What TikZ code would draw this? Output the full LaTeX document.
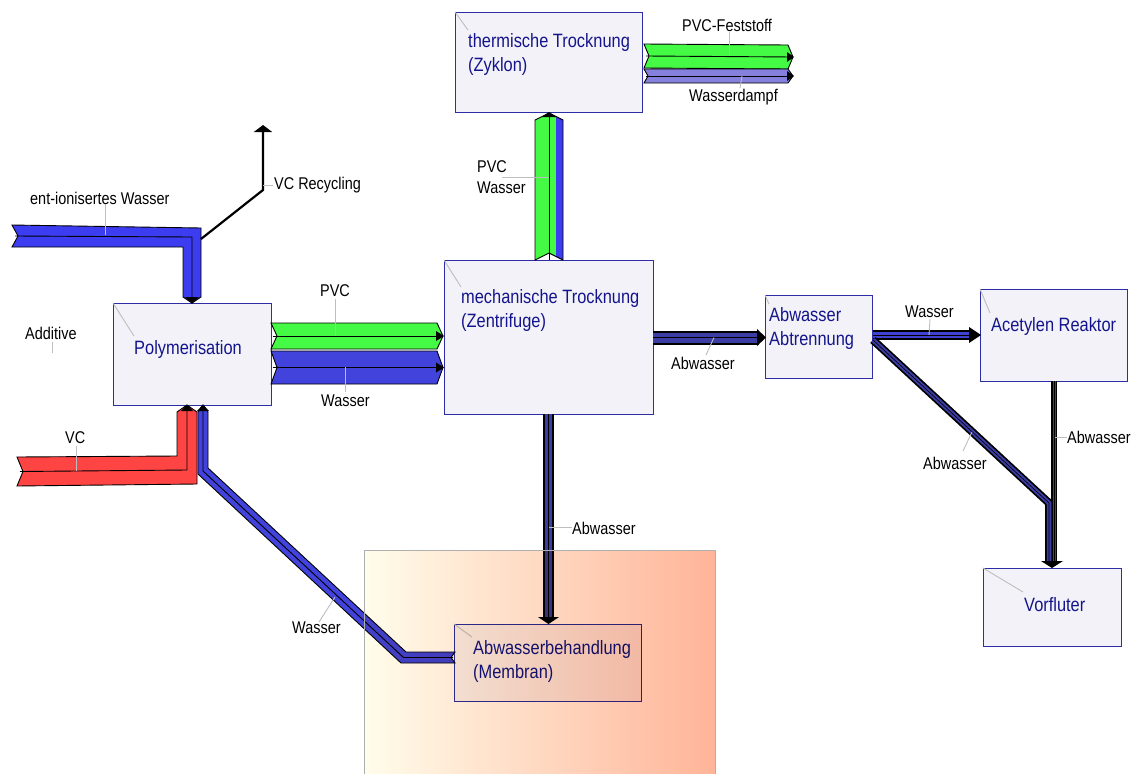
\documentclass[tikz,border=0pt]{standalone}
\usepackage{fontspec}
\setmainfont{Liberation Sans}[FakeStretch=0.85]
\usetikzlibrary{arrows.meta}
\definecolor{boxf}{RGB}{242,242,248}
\definecolor{boxc}{RGB}{45,45,165}
\definecolor{txtc}{RGB}{20,20,140}
\definecolor{grn}{RGB}{68,250,68}
\definecolor{blu}{RGB}{60,60,240}
\definecolor{wblu}{RGB}{66,66,220}
\definecolor{vio}{RGB}{132,128,220}
\definecolor{redc}{RGB}{255,68,68}
\definecolor{abw}{RGB}{60,60,165}
\definecolor{abwb}{RGB}{64,64,210}
\definecolor{lead}{RGB}{190,190,190}
\definecolor{gradL}{RGB}{255,253,235}
\definecolor{gradR}{RGB}{255,180,152}
\definecolor{frame}{RGB}{175,175,175}
\begin{document}
\begin{tikzpicture}[x=1pt,y=-1pt,
  box/.style={draw=boxc, fill=boxf, line width=1.4pt, inner sep=0pt, anchor=north west},
  btext/.style={text=txtc, font=\fontsize{19.3}{24}\selectfont, align=left, anchor=west, inner sep=0pt},
  lab/.style={text=black, font=\fontsize{17}{21}\selectfont, align=left, anchor=west, inner sep=0pt},
  leader/.style={draw=lead, line width=0.9pt},
  band/.style={draw=black, line width=0.9pt, line join=miter, fill=#1},
  mid/.style={draw=black, line width=0.9pt},
  outerb/.style={draw=black, line width=#1, line join=miter},
  innerb/.style={line width=#1, line join=miter},
  thinmid/.style={draw=black, line width=0.6pt}]
\useasboundingbox (0,0) rectangle (1141,774);
\fill[white] (0,0) rectangle (1141,774);

% ---------- boxes
\node[box, minimum width=187pt, minimum height=100pt] (therm) at (455,12) {};
\node[box, minimum width=158pt, minimum height=102pt] (poly) at (113,303) {};
\node[box, minimum width=209pt, minimum height=154pt] (mech) at (444,260) {};
\node[box, minimum width=107pt, minimum height=83pt] (abtr) at (765,295) {};
\node[box, minimum width=147pt, minimum height=92pt] (acet) at (980,289) {};
\node[box, minimum width=138pt, minimum height=78pt] (vorf) at (983,568) {};
\node[box, minimum width=187pt, minimum height=77pt] (memb) at (454,624) {};

\draw[leader] (therm.north west) -- (468,30);
\draw[leader] (poly.north west) -- (134,336);
\draw[leader] (mech.north west) -- (461,287);
\draw[leader] (abtr.north west) -- (769,304);
\draw[leader] (acet.north west) -- (990,313);
\draw[leader] (vorf.north west) -- (1023,592);
\draw[leader] (memb.north west) -- (472,637);

\node[btext] (tTherm) at (468,55) {thermische Trocknung\\(Zyklon)};
\node[btext] (tPoly) at (134,350) {Polymerisation};
\node[btext] (tMech) at (461,311) {mechanische Trocknung\\(Zentrifuge)};
\node[btext] (tAbtr) at (769,328.5) {Abwasser\\Abtrennung};
\node[btext] (tAcet) at (991,327) {Acetylen Reaktor};
\node[btext] (tVorf) at (1024,605) {Vorfluter};
\node[btext] (tMemb) at (473,661) {Abwasserbehandlung\\(Membran)};

% ---------- ent-ionisertes Wasser
\draw[band=blu] (12,225) -- (201,228) -- (201,297) -- (192,303) -- (183,297) -- (183,247) -- (12,247) -- (18,236) -- cycle;
\draw[mid] (15,236) -- (192,237) -- (192,303);
\fill (185,297) -- (199,297) -- (192,303.5) -- cycle;

% ---------- VC Recycling
\draw[line width=2.2pt, -{Triangle[width=18pt,length=7pt]}] (201,239) -- (263,190) -- (263,125);

% ---------- VC
\draw[band=redc] (17,457) -- (177,456) -- (177,412) -- (187,405) -- (197,412) -- (197,484) -- (17,486) -- (23,471.5) -- cycle;
\draw[mid] (20,471.5) -- (187,470) -- (187,405);
\fill (181,411) -- (187,404.5) -- (193,411) -- cycle;

% ---------- Wasser return
\draw[band=wblu] (208,412) -- (208,468) -- (406,652) -- (455,652) -- (451,657.5) -- (455,663) -- (401,663) -- (198,474) -- (198,412) -- (203,405) -- cycle;
\draw[mid] (203,405) -- (203,471) -- (403.5,657.5) -- (453,657.5);
\fill (197,411) -- (203,404.5) -- (209,411) -- cycle;

% ---------- PVC / Wasser to mech
\draw[band=grn] (271,323) -- (437,323) -- (443,336) -- (437,349) -- (271,349) -- (277,336) -- cycle;
\draw[mid] (273,336) -- (443,336);
\fill (436,331) -- (444,336) -- (436,341) -- cycle;
\draw[band=wblu] (271,351) -- (437,351) -- (443,367.5) -- (437,384) -- (271,384) -- (277,367.5) -- cycle;
\draw[mid] (273,367.5) -- (443,367.5);
\fill (436,362.5) -- (444,367.5) -- (436,372.5) -- cycle;

% ---------- mech to therm
\fill[grn] (535,260) -- (535,120) -- (549,113) -- (556,116.5) -- (556,256.5) -- (549,253) -- cycle;
\fill[blu] (556,116.5) -- (563,120) -- (563,260) -- (556,256.5) -- cycle;
\draw[black, line width=0.9pt, line join=miter] (535,260) -- (535,120) -- (549,113) -- (563,120) -- (563,260) -- (549,253) -- cycle;
\draw[mid] (549,113) -- (549,260);
\fill (542,117) -- (549,112) -- (556,117) -- cycle;

% ---------- therm outputs
\draw[band=grn] (644,44) -- (788,45) -- (793,57) -- (788,69) -- (644,68) -- (649,56) -- cycle;
\draw[mid] (646,56) -- (793,57);
\fill (787,52) -- (794,57) -- (787,62) -- cycle;
\draw[band=vio] (644,69) -- (788,69) -- (793,76) -- (788,83) -- (644,83) -- (648,76) -- cycle;
\draw[mid] (646,76) -- (793,76);
\fill (787,71) -- (794,76) -- (787,81) -- cycle;

% ---------- mech to abtr
\draw[outerb=14pt] (653,337.5) -- (759,337.5);
\draw[abw, innerb=10pt] (653,337.5) -- (759,337.5);
\draw[thinmid] (653,337.5) -- (759,337.5);
\fill (757,329) -- (766,337.5) -- (757,346) -- cycle;

% ---------- abtr to acet
\draw[outerb=10pt] (873,335) -- (972,335);
\draw[abwb, innerb=6pt] (873,335) -- (972,335);
\draw[thinmid] (873,335) -- (972,335);
\fill (969,327) -- (981,335) -- (969,343) -- cycle;

% ---------- to Vorfluter
\draw[outerb=8pt] (873,340) -- (1049,503) -- (1049,561);
\draw[outerb=6pt] (1054,381) -- (1054,561);
\draw[abw, innerb=4.5pt] (873,340) -- (1049,503) -- (1049,561);
\draw[abw, innerb=3pt] (1054,381) -- (1054,561);
\draw[thinmid] (873,340) -- (1049,503) -- (1049,561);
\draw[thinmid] (1054,381) -- (1054,561);
\fill (1041,561) -- (1063,561) -- (1052,568) -- cycle;

% ---------- mech to memb
\draw[outerb=11pt] (548.5,414) -- (548.5,617);
\draw[abw, innerb=7pt] (548.5,414) -- (548.5,617);
\draw[thinmid] (548.5,414) -- (548.5,617);
\fill (538,617) -- (559,617) -- (548.5,624) -- cycle;

% ---------- labels
\node[lab] (lEnt) at (30,198) {ent-ionisertes Wasser};
\draw[leader] (105,204) -- (105,235);
\node[lab] (lVCR) at (274,185) {VC Recycling};
\draw[leader] (263,185) -- (273,185);
\node[lab] (lAdd) at (25,333) {Additive};
\draw[leader] (52,342) -- (52,353);
\node[lab] (lVC) at (65,438) {VC};
\draw[leader] (76,446) -- (76,471);
\node[lab] (lPVC) at (320,291) {PVC};
\draw[leader] (335,299) -- (335,336);
\node[lab] (lW1) at (321,401) {Wasser};
\draw[leader] (345,367) -- (345,392);
\node[lab] (lPW) at (477,177) {PVC\\Wasser};
\draw[leader] (502,177) -- (549,177);
\node[lab] (lFest) at (682,25) {PVC-Feststoff};
\draw[leader] (729,32) -- (729,56);
\node[lab] (lDampf) at (689,97) {Wasserdampf};
\draw[leader] (740,88) -- (742,76);
\node[lab] (lAbw1) at (671,363) {Abwasser};
\draw[leader] (706,355) -- (714,337.5);
\node[lab] (lW2) at (905,312) {Wasser};
\draw[leader] (930,319) -- (929,335);
\node[lab] (lAbw2) at (923,463) {Abwasser};
\draw[leader] (963,451) -- (972,432);
\node[lab] (lAbw3) at (1067,437) {Abwasser};
\draw[leader] (1055,437) -- (1067,437);
\node[lab] (lAbw4) at (572,528) {Abwasser};
\draw[leader] (549,527) -- (572,527);
\node[lab] (lW3) at (292,628) {Wasser};
\draw[leader] (319,622) -- (335,597);

% ---------- gradient overlay
\begin{scope}[blend mode=multiply]
\shade[left color=gradL, right color=gradR] (364,550) rectangle (715,776);
\end{scope}
\draw[frame, line width=1pt] (364,776) -- (364,550) -- (715,550) -- (715,776);
\end{tikzpicture}
\end{document}
